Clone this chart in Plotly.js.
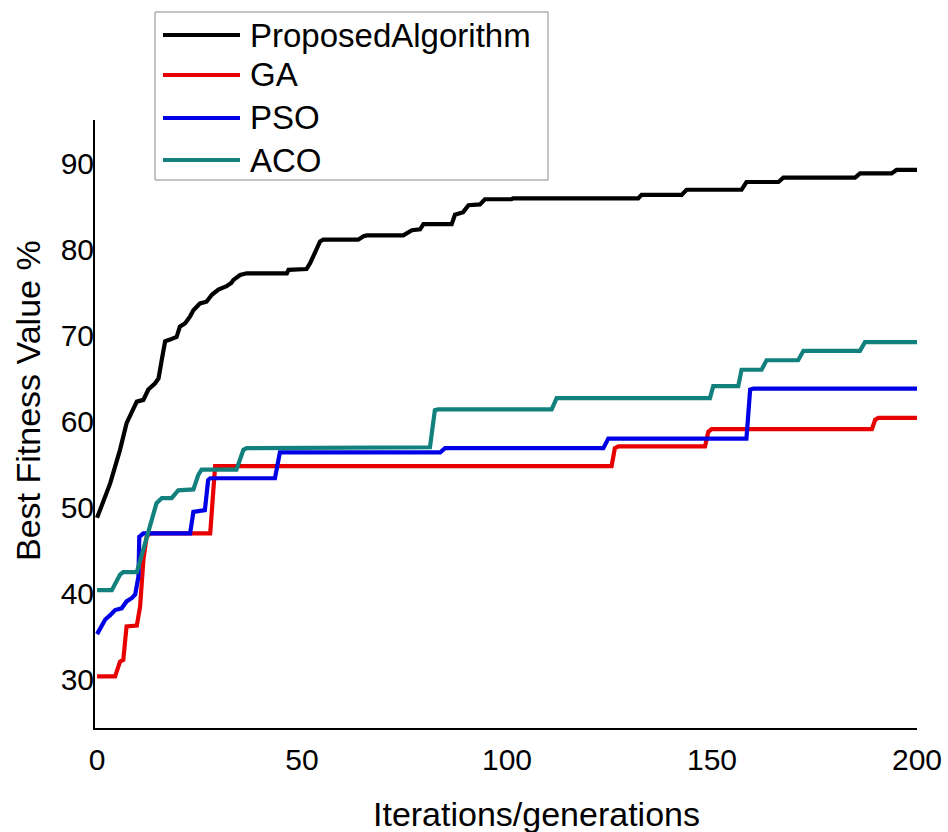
<!DOCTYPE html>
<html>
<head>
<meta charset="utf-8">
<script src="https://cdn.plot.ly/plotly-3.0.1.min.js"></script>
<style>html,body{margin:0;padding:0;background:#fff;}#chart{width:948px;height:832px;}</style>
</head>
<body>
<div id="chart"></div>
<script>
var seriesNames = ["ProposedAlgorithm", "GA", "PSO", "ACO"];
var xTickVals = [0, 50, 100, 150, 200];
var yTickVals = [30, 40, 50, 60, 70, 80, 90];
var xTitle = "Iterations/generations";
var yTitle = "Best Fitness Value %";

var propX = [0,3.2,5.6,7.2,8.5,9.7,11.3,12.5,14.1,15.0,15.8,16.6,17.8,19.4,20.2,21.5,22.7,23.5,25.1,26.7,28.0,29.6,31.6,32.8,33.2,34.9,36.5,46.3,46.7,51.1,52.0,54.4,55.2,63.7,65.0,65.8,74.7,76.8,78.8,79.6,86.5,87.3,89.3,90.6,93.4,94.6,101.1,101.5,132.0,132.8,142.6,143.8,157.2,158.4,166.2,167.4,184.9,186.1,193.8,195.0,200];
var propY = [48.8,52.8,56.7,59.8,61.1,62.3,62.5,63.7,64.4,65.0,67.2,69.3,69.5,69.8,71.0,71.4,72.2,72.9,73.7,73.9,74.7,75.3,75.7,76.1,76.4,77.0,77.2,77.2,77.6,77.7,78.4,80.9,81.1,81.1,81.5,81.6,81.6,82.2,82.3,82.9,82.9,84.0,84.3,85.1,85.2,85.8,85.8,85.9,85.9,86.3,86.3,86.9,86.9,87.8,87.8,88.3,88.3,88.8,88.8,89.2,89.2];

var gaX = [0,4.4,5.6,6.4,7.2,9.7,10.5,11.3,12.1,12.9,27.6,28.4,28.8,125.5,126.3,127.2,148.3,149.1,149.9,189.0,189.8,190.6,200];
var gaY = [30.4,30.4,32.1,32.3,36.2,36.3,38.5,43.9,46.6,47.0,47.0,53.2,54.8,54.8,56.9,57.1,57.1,58.8,59.1,59.1,60.2,60.4,60.4];

var psoX = [0,2.0,3.2,4.4,6.0,7.2,8.5,9.3,10.1,10.3,11.3,22.7,23.5,26.3,27.1,27.6,43.4,44.6,83.7,84.9,123.5,124.7,158.4,159.3,160.1,200];
var psoY = [35.3,37.0,37.5,38.1,38.3,39.1,39.5,39.9,42.0,46.6,47.0,47.0,49.5,49.7,53.2,53.4,53.4,56.4,56.4,56.9,56.9,58.0,58.0,63.7,63.8,63.8];

var acoX = [0,3.6,5.6,6.4,9.7,12.1,14.5,15.8,18.2,19.8,23.5,24.7,25.5,34.0,35.7,36.5,81.2,82.4,83.2,110.9,112.1,149.5,150.3,156.4,157.2,162.1,163.3,171.0,172.3,186.1,187.3,200];
var acoY = [40.4,40.4,42.2,42.5,42.5,46.6,50.5,51.1,51.1,52.0,52.1,53.8,54.4,54.4,56.7,56.9,57.0,61.3,61.4,61.4,62.7,62.7,64.1,64.1,66.0,66.0,67.1,67.1,68.2,68.2,69.2,69.2];

var colors = ["#000000", "rgb(232,0,0)", "rgb(0,0,230)", "rgb(18,128,125)"];
var xs = [propX, gaX, psoX, acoX];
var ys = [propY, gaY, psoY, acoY];

var FONT = "Liberation Sans, Arial, sans-serif";

// plot area in pixels (for converting legend placement to paper coords)
var PL = 95, PR = 917, PT = 120, PB = 728;
function px(x) { return (x - PL) / (PR - PL); }
function py(y) { return (PB - y) / (PB - PT); }

var traces = seriesNames.map(function (n, i) {
  return {
    type: "scatter", mode: "lines", name: n,
    x: xs[i], y: ys[i],
    line: {color: colors[i], width: 4.2, shape: "linear"},
    showlegend: false
  };
});

// legend drawn as a box, sample lines and real text labels
var legendRows = [35, 75, 118, 160];
var shapes = [{
  type: "rect", xref: "paper", yref: "paper",
  x0: px(155), x1: px(548), y0: py(12), y1: py(180),
  line: {color: "#8a8a8a", width: 1}, fillcolor: "#fff", layer: "above"
}];
var annotations = [];
seriesNames.forEach(function (n, i) {
  shapes.push({
    type: "line", xref: "paper", yref: "paper",
    x0: px(163), x1: px(240), y0: py(legendRows[i]), y1: py(legendRows[i]),
    line: {color: colors[i], width: 4}, layer: "above"
  });
  annotations.push({
    text: n, xref: "paper", yref: "paper", x: px(248), y: py(legendRows[i]),
    xanchor: "left", yanchor: "middle", showarrow: false,
    font: {size: 33, family: FONT, color: "#000"}
  });
});
annotations.push(
  {text: xTitle, xref: "paper", yref: "paper", x: px(536), y: py(814),
   xanchor: "center", yanchor: "middle", showarrow: false, font: {size: 34, family: FONT, color: "#000"}},
  {text: yTitle, xref: "paper", yref: "paper", x: px(28), y: py(401),
   xanchor: "center", yanchor: "middle", textangle: -90, showarrow: false, font: {size: 34, family: FONT, color: "#000"}}
);

var layout = {
  width: 948, height: 832,
  paper_bgcolor: "#fff", plot_bgcolor: "#fff",
  margin: {l: PL, r: 948 - PR, t: PT, b: 832 - PB, pad: 0},
  font: {family: FONT, color: "#000", size: 30},
  showlegend: false,
  xaxis: {
    range: [-0.5, 200], tickvals: xTickVals, ticktext: xTickVals.map(String),
    showgrid: false, zeroline: false, showline: true, linecolor: "#000", linewidth: 2,
    ticks: "", ticklabelstandoff: 4, tickfont: {size: 30, family: FONT, color: "#000"},
    title: {text: ""}
  },
  yaxis: {
    range: [24.4, 95], tickvals: yTickVals, ticktext: yTickVals.map(String),
    showgrid: false, zeroline: false, showline: true, linecolor: "#000", linewidth: 2,
    ticks: "", ticklabelstandoff: -7, tickfont: {size: 30, family: FONT, color: "#000"},
    title: {text: ""}
  },
  shapes: shapes,
  annotations: annotations
};

Plotly.newPlot("chart", traces, layout, {displayModeBar: false, staticPlot: true});
</script>
</body>
</html>
